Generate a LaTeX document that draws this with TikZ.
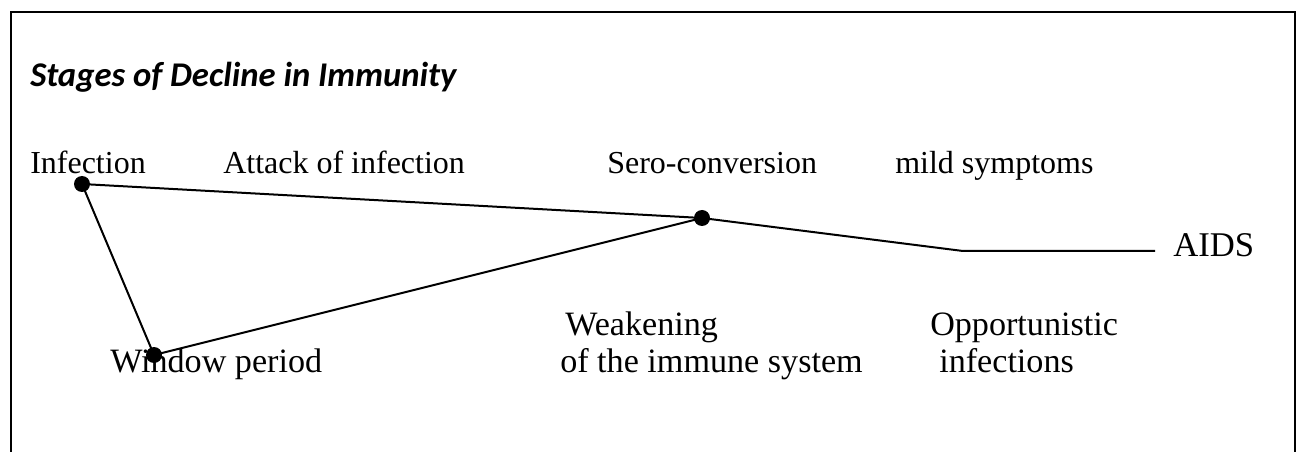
\documentclass[tikz,border=0pt]{standalone}
\usepackage{fontspec}
\setmainfont{Liberation Serif}
\newfontfamily\titlefont{Carlito}
\begin{document}
\begin{tikzpicture}[x=0.75pt,y=-0.75pt,
  frame/.style={line width=1.5pt},
  conn/.style={line width=1.5pt},
  dot/.style={circle,fill=black,inner sep=0pt,minimum size=12pt},
  lbl/.style={anchor=base west,inner sep=0pt,font=\fontsize{24pt}{29pt}\selectfont},
  biglbl/.style={lbl,font=\fontsize{25.6pt}{30pt}\selectfont},
  ttl/.style={anchor=base west,inner sep=0pt,font=\titlefont\bfseries\itshape\fontsize{26pt}{31pt}\selectfont}]
\useasboundingbox (0,0) rectangle (1303,452);
\draw[frame] (10.5,460) -- (10.5,12) -- (1295,12) -- (1295,460);
\node[ttl] (title) at (30,87) {Stages of Decline in Immunity};
% labels
\node[lbl] (tinf) at (30,174) {Infection};
\node[lbl] (tatt) at (223,174) {Attack of infection};
\node[lbl] (tsero) at (607,174) {Sero-conversion};
\node[lbl] (tmild) at (895,174) {mild symptoms};
\node[lbl,font=\fontsize{26pt}{30pt}\selectfont] (taids) at (1173,257) {AIDS};
\node[biglbl] (tweak) at (565,335) {Weakening};
\node[biglbl] (timm) at (560,372) {of the immune system};
\node[biglbl] (topp) at (930,335) {Opportunistic};
\node[biglbl] (toinf) at (939,372) {infections};
\node[biglbl] (twin) at (110,373) {Window period};
% points
\node[dot] (inf) at (82,184) {};
\node[dot] (win) at (154,355) {};
\node[dot] (sero) at (702,218) {};
\coordinate (bend) at (963,251);
\coordinate (aend) at (1155,251);
\draw[conn] (inf.center) -- (sero.center);
\draw[conn] (inf.center) -- (win.center);
\draw[conn] (win.center) -- (sero.center);
\draw[conn] (sero.center) -- (bend) -- (aend);
\end{tikzpicture}
\end{document}
